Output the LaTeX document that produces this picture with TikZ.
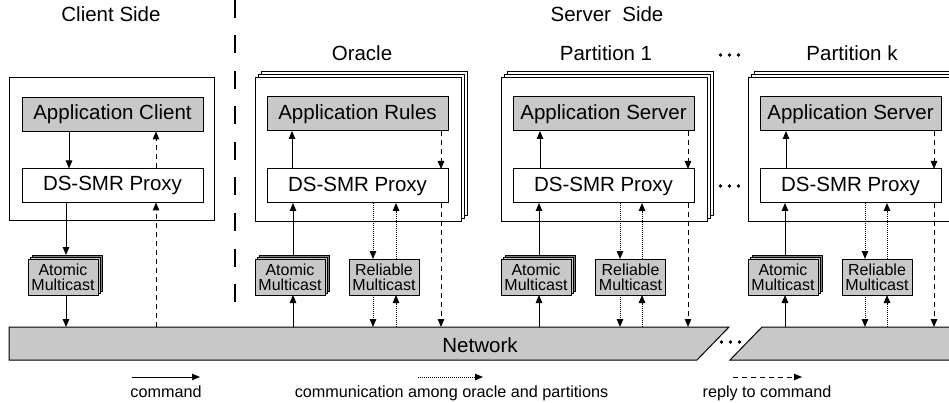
\documentclass[tikz,border=0pt]{standalone}
\usepackage{fontspec}
\setmainfont{Liberation Sans}
\usetikzlibrary{arrows.meta,shadows}
\definecolor{boxgray}{RGB}{200,200,200}
\begin{document}
\begin{tikzpicture}[x=1pt,y=-1pt,
  font=\fontsize{20.5}{22}\selectfont,
  every node/.style={inner sep=0pt, outer sep=0pt},
  outerbox/.style={draw, line width=1pt, fill=white, minimum width=206pt, minimum height=144pt},
  stacked/.style={
    general shadow={shadow xshift=6pt, shadow yshift=6pt, draw, line width=1pt, fill=white},
    general shadow={shadow xshift=3pt, shadow yshift=3pt, draw, line width=1pt, fill=white}},
  appbox/.style={draw, line width=1pt, fill=boxgray, minimum width=181pt, minimum height=34pt, text height=15pt, text depth=4pt},
  proxybox/.style={draw, line width=1pt, fill=white, minimum width=181pt, minimum height=34pt, text height=15pt, text depth=4pt},
  mcbox/.style={draw, line width=1pt, fill=boxgray, minimum width=70pt, minimum height=36pt, align=center, font=\fontsize{16}{15}\selectfont},
  mcstack/.style={mcbox,
    general shadow={shadow xshift=4pt, shadow yshift=4pt, draw, line width=1pt, fill=gray},
    general shadow={shadow xshift=2pt, shadow yshift=2pt, draw, line width=1pt, fill=boxgray}},
  tip/.style={-{Triangle[length=8pt,width=6.5pt]}},
  cmd/.style={line width=1pt, tip},
  comm/.style={line width=1pt, dash pattern=on 1pt off 1pt, tip},
  reply/.style={line width=1pt, dash pattern=on 5pt off 4pt, tip},
  legend/.style={font=\fontsize{16.2}{18}\selectfont},
  dot/.style={circle, fill=black, minimum size=3.8pt}
]
\path[use as bounding box] (0,0) rectangle (949,403);
\clip (0,0) rectangle (949,403);

% headers
\node[anchor=base] (hclient) at (111,22) {Client Side};
\node[anchor=base] (hserver) at (607,22) {Server\ \ Side};
\node[anchor=base] (horacle) at (362,61) {Oracle};
\node[anchor=base] (hp1) at (606,61) {Partition 1};
\node[anchor=base] (hpk) at (852,61) {Partition k};

% separator
\coordinate (sepa) at (235,0);
\coordinate (sepb) at (235,302);
\draw[line width=1.6pt, dash pattern=on 18pt off 17.5pt] (sepa) -- (sepb);

% outer boxes
\node[outerbox, minimum width=205pt, minimum height=143pt] (cbox) at (111.5,149.5) {};
\node[outerbox, stacked] (obox) at (358,150) {};
\node[outerbox, stacked] (p1box) at (604.5,150) {};
\node[outerbox, stacked] (pkbox) at (851,150) {};

% inner boxes
\node[appbox] (capp) at (112.5,114.5) {Application Client};
\node[proxybox] (cprox) at (112.5,185.5) {DS-SMR Proxy};
\node[appbox] (oapp) at (357.5,114) {Application Rules};
\node[proxybox] (oprox) at (357.5,186) {DS-SMR Proxy};
\node[appbox] (p1app) at (603.5,114) {Application Server};
\node[proxybox] (p1prox) at (603.5,186) {DS-SMR Proxy};
\node[appbox] (pkapp) at (850.5,114) {Application Server};
\node[proxybox] (pkprox) at (850.5,186) {DS-SMR Proxy};

% multicast boxes
\node[mcstack] (cam) at (63,277) {Atomic\\Multicast};
\node[mcstack] (oam) at (290,277) {Atomic\\Multicast};
\node[mcbox] (orm) at (384,277) {Reliable\\Multicast};
\node[mcstack] (p1am) at (536,277) {Atomic\\Multicast};
\node[mcbox] (p1rm) at (630.5,277) {Reliable\\Multicast};
\node[mcstack] (pkam) at (783,277) {Atomic\\Multicast};
\node[mcbox] (pkrm) at (877,277) {Reliable\\Multicast};

% network
\coordinate (nettop) at (0,327);
\draw[line width=1pt, fill=boxgray] (9,327) -- (729,327) -- (697,360) -- (9,360) -- cycle;
\draw[line width=1pt, fill=boxgray] (762,327) -- (962,327) -- (962,360) -- (730,360) -- cycle;
\node[anchor=base] (net) at (480,352) {Network};

% dots
\node[dot] (dn1) at (721.5,342) {};
\node[dot] (dn2) at (730.5,342) {};
\node[dot] (dn3) at (739.5,342) {};
\node[dot] (dt1) at (720.5,55) {};
\node[dot] (dt2) at (729.5,55) {};
\node[dot] (dt3) at (738.5,55) {};
\node[dot] (dm1) at (720.5,186) {};
\node[dot] (dm2) at (729.5,186) {};
\node[dot] (dm3) at (738.5,186) {};

% client arrows
\draw[cmd] (69,0 |- capp.south) -- (69,0 |- cprox.north);
\draw[reply] (156,0 |- cprox.north) -- (156,0 |- capp.south);
\draw[cmd, shorten >=4pt] (66,0 |- cprox.south) -- (66,0 |- cam.north);
\draw[cmd] (66,0 |- cam.south) -- (66,0 |- nettop);
\draw[reply] (156,0 |- nettop) -- (156,0 |- cprox.south);

% oracle arrows
\draw[cmd] (292,0 |- oprox.north) -- (292,0 |- oapp.south);
\draw[reply] (441,0 |- oapp.south) -- (441,0 |- oprox.north);
\draw[cmd, shorten <=4pt] (293,0 |- oam.north) -- (293,0 |- oprox.south);
\draw[cmd] (293,0 |- nettop) -- (293,0 |- oam.south);
\draw[comm] (373,0 |- oprox.south) -- (373,0 |- orm.north);
\draw[comm] (396,0 |- orm.north) -- (396,0 |- oprox.south);
\draw[comm] (373,0 |- orm.south) -- (373,0 |- nettop);
\draw[comm] (396,0 |- nettop) -- (396,0 |- orm.south);
\draw[reply] (441,0 |- oprox.south) -- (441,0 |- nettop);

% partition 1 arrows
\draw[cmd] (540,0 |- p1prox.north) -- (540,0 |- p1app.south);
\draw[reply] (688,0 |- p1app.south) -- (688,0 |- p1prox.north);
\draw[cmd, shorten <=4pt] (539,0 |- p1am.north) -- (539,0 |- p1prox.south);
\draw[cmd] (539,0 |- nettop) -- (539,0 |- p1am.south);
\draw[comm] (620,0 |- p1prox.south) -- (620,0 |- p1rm.north);
\draw[comm] (642,0 |- p1rm.north) -- (642,0 |- p1prox.south);
\draw[comm] (620,0 |- p1rm.south) -- (620,0 |- nettop);
\draw[comm] (642,0 |- nettop) -- (642,0 |- p1rm.south);
\draw[reply] (688,0 |- p1prox.south) -- (688,0 |- nettop);

% partition k arrows
\draw[cmd] (786,0 |- pkprox.north) -- (786,0 |- pkapp.south);
\draw[reply] (934,0 |- pkapp.south) -- (934,0 |- pkprox.north);
\draw[cmd, shorten <=4pt] (785,0 |- pkam.north) -- (785,0 |- pkprox.south);
\draw[cmd] (785,0 |- nettop) -- (785,0 |- pkam.south);
\draw[comm] (865,0 |- pkprox.south) -- (865,0 |- pkrm.north);
\draw[comm] (887,0 |- pkrm.north) -- (887,0 |- pkprox.south);
\draw[comm] (865,0 |- pkrm.south) -- (865,0 |- nettop);
\draw[comm] (887,0 |- nettop) -- (887,0 |- pkrm.south);
\draw[reply] (934,0 |- pkprox.south) -- (934,0 |- nettop);

% legend
\coordinate (la1) at (132,377);
\coordinate (lb1) at (200,377);
\coordinate (la2) at (418,377);
\coordinate (lb2) at (483,377);
\coordinate (la3) at (733,377);
\coordinate (lb3) at (802,377);
\draw[cmd] (la1) -- (lb1);
\draw[comm] (la2) -- (lb2);
\draw[reply] (la3) -- (lb3);
\node[legend, anchor=base] (lt1) at (166,397) {command};
\node[legend, anchor=base] (lt2) at (451.5,397) {communication among oracle and partitions};
\node[legend, anchor=base] (lt3) at (767,397) {reply to command};
\end{tikzpicture}
\end{document}
